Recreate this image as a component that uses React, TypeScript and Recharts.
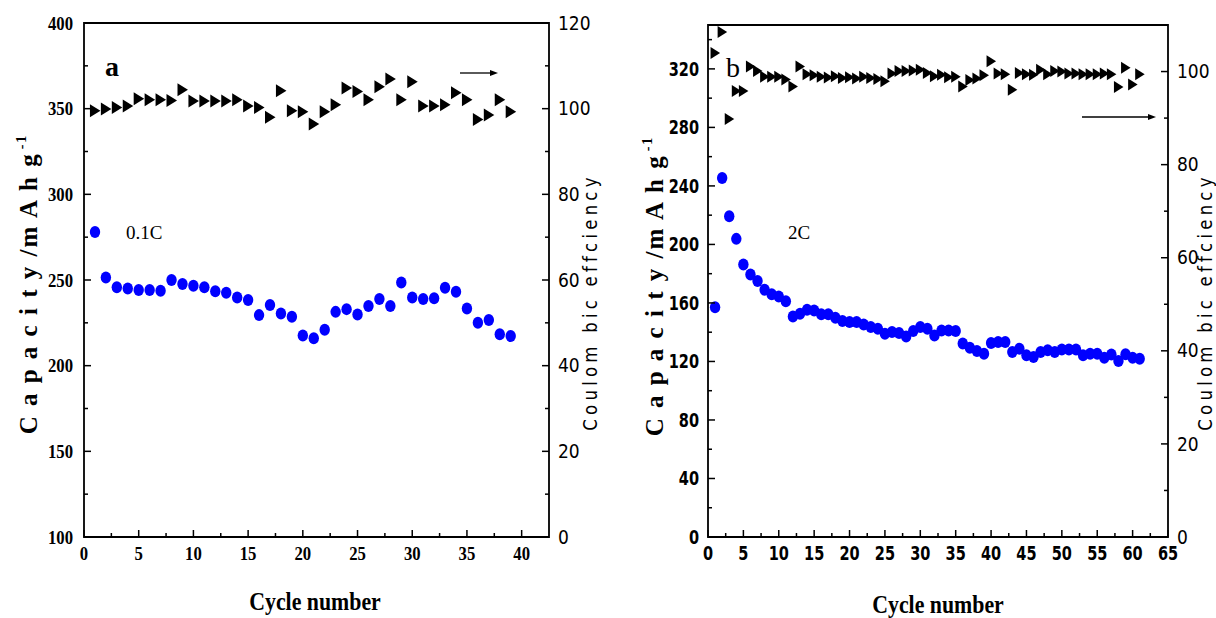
import React from 'react';
import { ScatterChart, Scatter, XAxis, YAxis, ReferenceArea, Customized } from 'recharts';

// ---------- Panel a (0.1C) ----------
const capAStartCycle = 2;
const capA = [251.5, 245.7, 245.1, 244.1, 244.1, 243.7, 250, 247.6, 246.6, 245.7, 243.5, 242.5, 239.8, 238.3, 229.5, 235.4, 230.5, 228.5, 217.6, 216, 220.9, 231.4, 233, 229.9, 234.8, 238.9, 234.8, 248.6, 239.8, 238.9, 239.3, 245.5, 243.1, 233.4, 225, 226.6, 218.3, 217.3];
const effAStartCycle = 1;
const effA = [99.5, 99.9, 100.3, 100.6, 102.3, 102.1, 102.1, 101.9, 104.4, 101.8, 101.8, 101.8, 101.8, 102.1, 100.6, 100.3, 98.0, 104.2, 99.5, 99.3, 96.4, 99.3, 100.9, 104.8, 104.0, 102.1, 105.1, 106.9, 102.1, 106.3, 100.6, 100.6, 100.9, 103.7, 102.1, 97.5, 98.5, 102.1, 99.3];
const xTicksA = [0, 2.5, 5, 7.5, 10, 12.5, 15, 17.5, 20, 22.5, 25, 27.5, 30, 32.5, 35, 37.5, 40];
const yLeftTicksA = [100, 125, 150, 175, 200, 225, 250, 275, 300, 325, 350, 375, 400];
const yRightTicksA = [0, 10, 20, 30, 40, 50, 60, 70, 80, 90, 100, 110, 120];

// ---------- Panel b (2C) ----------
const capBStartCycle = 1;
const capB = [157, 245.4, 219.3, 203.8, 186.2, 179.5, 175, 169, 166, 164.4, 161.2, 150.8, 152.6, 155.4, 154.9, 152.2, 152.2, 149.9, 147.6, 146.9, 146.9, 145.3, 143.5, 142.4, 139, 140.1, 139.4, 137.1, 140.8, 143.5, 142.4, 137.8, 141.2, 141.2, 140.8, 132.2, 129.4, 127.1, 125.3, 132.6, 133.3, 133.3, 126.4, 128.7, 124.2, 123, 126.4, 127.6, 126.4, 128.1, 128.1, 128.1, 124.2, 125.3, 125.3, 122.6, 124.7, 120.3, 124.9, 122.6, 121.9];
const effBStartCycle = 1;
const effB = [104, 108.5, 89.8, 95.8, 95.8, 101.1, 100.1, 98.9, 98.9, 98.9, 98.3, 96.8, 101.1, 99.4, 99.2, 98.9, 98.7, 99.0, 98.6, 98.8, 98.5, 98.9, 98.6, 98.4, 97.9, 99.6, 100.1, 100.1, 100.2, 100.4, 99.7, 99.0, 99.3, 98.8, 98.9, 96.8, 98.2, 98.5, 99.2, 102.2, 99.6, 99.4, 96.1, 99.7, 99.4, 99.3, 100.4, 99.4, 100.1, 100.0, 99.6, 99.6, 99.4, 99.4, 99.4, 99.6, 99.4, 96.7, 100.8, 97.2, 99.4];
const xTicksB = [0, 2.5, 5, 7.5, 10, 12.5, 15, 17.5, 20, 22.5, 25, 27.5, 30, 32.5, 35, 37.5, 40, 42.5, 45, 47.5, 50, 52.5, 55, 57.5, 60, 62.5, 65];
const yLeftTicksB = [0, 20, 40, 60, 80, 100, 120, 140, 160, 180, 200, 220, 240, 260, 280, 300, 320, 340];
const yRightTicksB = [0, 10, 20, 30, 40, 50, 60, 70, 80, 90, 100];

const toPoints = (vals: number[], start: number) => vals.map((v, i) => ({ x: start + i, y: v }));

const SERIF = '"Liberation Serif", "Times New Roman", serif';
const NARROW = '"Liberation Sans Narrow", "Arial Narrow", "DejaVu Sans Condensed", sans-serif';

type TickOpt = {
  side: 'left' | 'right' | 'bottom';
  isMajor: (v: number) => boolean;
  font: string;
  weight: number | string;
  size: number;
  gap: number;
  sx?: number;
};

const makeTick = (o: TickOpt) => (props: any) => {
  const { x, y, payload } = props;
  const v = payload.value as number;
  const maj = o.isMajor(v);
  const L = maj ? 7 : 4;
  const label = maj ? String(v) : '';
  const sx = o.sx ?? 1;
  const textProps = { fontFamily: o.font, fontWeight: o.weight, fontSize: o.size, fill: '#000' } as any;
  if (o.side === 'left') {
    return (
      <g>
        <line x1={x} y1={y} x2={x + L} y2={y} stroke="#000" strokeWidth={1.5} />
        <text transform={`translate(${x - o.gap},${y}) scale(${sx},1)`} dy="0.35em" textAnchor="end" {...textProps}>{label}</text>
      </g>
    );
  }
  if (o.side === 'right') {
    return (
      <g>
        <line x1={x} y1={y} x2={x - L} y2={y} stroke="#000" strokeWidth={1.5} />
        <text transform={`translate(${x + o.gap},${y}) scale(${sx},1)`} dy="0.35em" textAnchor="start" {...textProps}>{label}</text>
      </g>
    );
  }
  return (
    <g>
      <line x1={x} y1={y} x2={x} y2={y - L} stroke="#000" strokeWidth={1.5} />
      <text transform={`translate(${x},${y + o.gap}) scale(${sx},1)`} dy="0.75em" textAnchor="middle" {...textProps}>{label}</text>
    </g>
  );
};

const BlueDot = (p: any) => <ellipse cx={p.cx} cy={p.cy} rx={5.2} ry={6} fill="#0000ff" />;
const TriA = (p: any) => (
  <polygon points={`${p.cx - 5},${p.cy - 6.5} ${p.cx + 5.5},${p.cy} ${p.cx - 5},${p.cy + 6.5}`} fill="#000" />
);
const TriB = (p: any) => (
  <polygon points={`${p.cx - 4.5},${p.cy - 6} ${p.cx + 5},${p.cy} ${p.cx - 4.5},${p.cy + 6}`} fill="#000" />
);

const Arrow = ({ x1, x2, y }: { x1: number; x2: number; y: number }) => (
  <g>
    <line x1={x1} y1={y} x2={x2 - 6} y2={y} stroke="#000" strokeWidth={1.3} />
    <polygon points={`${x2 - 8},${y - 3} ${x2},${y} ${x2 - 8},${y + 3}`} fill="#000" />
  </g>
);

const CapTitle = ({ x, y }: { x: number; y: number }) => (
  <text
    transform={`translate(${x},${y}) rotate(-90)`}
    textAnchor="middle"
    fontFamily={SERIF}
    fontWeight="bold"
    fontSize={25}
    letterSpacing={2}
    fill="#000"
  >
    C a p a c i t y /m A h g
    <tspan fontSize={14} dy={-11} dx={3}>-1</tspan>
  </text>
);

const EffTitle = ({ x, y }: { x: number; y: number }) => (
  <text
    transform={`translate(${x},${y}) rotate(-90) scale(0.92,1)`}
    textAnchor="middle"
    fontFamily={NARROW}
    fontSize={20}
    letterSpacing={4.6}
    fill="#000"
  >
    Coulom bic effciency
  </text>
);

const CycleTitle = ({ x, y }: { x: number; y: number }) => (
  <text transform={`translate(${x},${y}) scale(0.84,1)`} textAnchor="middle" fontFamily={SERIF} fontWeight="bold" fontSize={26} fill="#000">
    Cycle number
  </text>
);

const DecorA = () => (
  <g>
    <text x={112} y={76} textAnchor="middle" fontFamily={SERIF} fontWeight="bold" fontSize={28} fill="#000">a</text>
    <ellipse cx={95} cy={232} rx={5.2} ry={6} fill="#0000ff" />
    <text x={126} y={239} fontFamily={SERIF} fontSize={19} fill="#000">0.1C</text>
    <Arrow x1={460} x2={498} y={73} />
    <CapTitle x={37} y={284} />
    <EffTitle x={597} y={302} />
    <CycleTitle x={315} y={610} />
  </g>
);

const DecorB = () => (
  <g>
    <text x={123} y={77} textAnchor="middle" fontFamily={SERIF} fontSize={28} fill="#000">b</text>
    <text x={178} y={239} fontFamily={SERIF} fontSize={19} fill="#000">2C</text>
    <Arrow x1={472} x2={546} y={117} />
    <CapTitle x={53} y={286} />
    <EffTitle x={602} y={302} />
    <CycleTitle x={328} y={613} />
  </g>
);

export default function App() {
  const capAData = toPoints(capA, capAStartCycle);
  const effAData = toPoints(effA, effAStartCycle);
  const capBData = toPoints(capB, capBStartCycle);
  const effBData = toPoints(effB, effBStartCycle);

  return (
    <div style={{ position: 'fixed', left: 0, top: 0, width: 1216, height: 618, background: '#fff', overflow: 'hidden' }}>
      <div style={{ position: 'absolute', left: 0, top: 0 }}>
        <ScatterChart width={610} height={618} margin={{ top: 23, right: 21, bottom: 51, left: 24 }}>
          <XAxis
            type="number"
            dataKey="x"
            domain={[0, 42.5]}
            ticks={xTicksA}
            interval={0}
            height={30}
            axisLine={false}
            tickLine={false}
            tickSize={0}
            tickMargin={0}
            tick={makeTick({ side: 'bottom', isMajor: (v) => v % 5 === 0, font: SERIF, weight: 'bold', size: 19, gap: 9, sx: 0.88 })}
          />
          <YAxis
            yAxisId="l"
            type="number"
            dataKey="y"
            domain={[100, 400]}
            ticks={yLeftTicksA}
            interval={0}
            width={60}
            axisLine={false}
            tickLine={false}
            tickSize={0}
            tickMargin={0}
            tick={makeTick({ side: 'left', isMajor: (v) => v % 50 === 0, font: SERIF, weight: 'bold', size: 19, gap: 11, sx: 0.88 })}
          />
          <YAxis
            yAxisId="r"
            orientation="right"
            type="number"
            dataKey="y"
            domain={[0, 120]}
            ticks={yRightTicksA}
            interval={0}
            width={40}
            axisLine={false}
            tickLine={false}
            tickSize={0}
            tickMargin={0}
            tick={makeTick({ side: 'right', isMajor: (v) => v % 20 === 0, font: NARROW, weight: 'normal', size: 19, gap: 9 })}
          />
          <ReferenceArea yAxisId="l" x1={0} x2={42.5} y1={100} y2={400} fill="none" stroke="#000" strokeWidth={1.8} />
          <Scatter yAxisId="r" data={effAData} shape={TriA} isAnimationActive={false} />
          <Scatter yAxisId="l" data={capAData} shape={BlueDot} isAnimationActive={false} />
          <Customized component={DecorA} />
        </ScatterChart>
      </div>
      <div style={{ position: 'absolute', left: 610, top: 0 }}>
        <ScatterChart width={606} height={618} margin={{ top: 25, right: 8, bottom: 51, left: 48 }}>
          <XAxis
            type="number"
            dataKey="x"
            domain={[0, 65]}
            ticks={xTicksB}
            interval={0}
            height={30}
            axisLine={false}
            tickLine={false}
            tickSize={0}
            tickMargin={0}
            tick={makeTick({ side: 'bottom', isMajor: (v) => v % 5 === 0, font: NARROW, weight: 'bold', size: 19, gap: 9, sx: 0.85 })}
          />
          <YAxis
            yAxisId="l"
            type="number"
            dataKey="y"
            domain={[0, 350]}
            ticks={yLeftTicksB}
            interval={0}
            width={50}
            axisLine={false}
            tickLine={false}
            tickSize={0}
            tickMargin={0}
            tick={makeTick({ side: 'left', isMajor: (v) => v % 40 === 0, font: NARROW, weight: 'bold', size: 19, gap: 9, sx: 0.85 })}
          />
          <YAxis
            yAxisId="r"
            orientation="right"
            type="number"
            dataKey="y"
            domain={[0, 110]}
            ticks={yRightTicksB}
            interval={0}
            width={40}
            axisLine={false}
            tickLine={false}
            tickSize={0}
            tickMargin={0}
            tick={makeTick({ side: 'right', isMajor: (v) => v % 20 === 0, font: NARROW, weight: 'normal', size: 19, gap: 9 })}
          />
          <ReferenceArea yAxisId="l" x1={0} x2={65} y1={0} y2={350} fill="none" stroke="#000" strokeWidth={1.8} />
          <Scatter yAxisId="r" data={effBData} shape={TriB} isAnimationActive={false} />
          <Scatter yAxisId="l" data={capBData} shape={BlueDot} isAnimationActive={false} />
          <Customized component={DecorB} />
        </ScatterChart>
      </div>
    </div>
  );
}
